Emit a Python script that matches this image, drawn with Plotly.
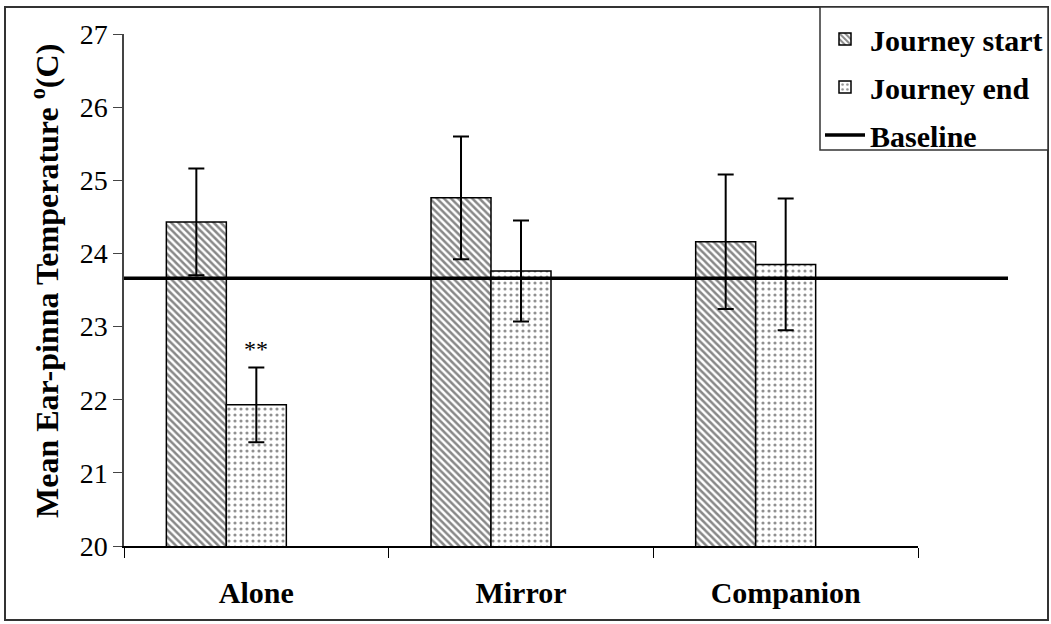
import plotly.graph_objects as go

categories = ["Alone", "Mirror", "Companion"]
journey_start = [24.43, 24.76, 24.16]
journey_start_err = [0.73, 0.84, 0.92]
journey_end = [21.93, 23.76, 23.85]
journey_end_err = [0.51, 0.69, 0.90]
baseline = 23.66
y_ticks = [20, 21, 22, 23, 24, 25, 26, 27]
significance = ["**", "", ""]

W, H = 1051, 624
ML, MR, MT, MB = 124, 133, 34, 78
PW = W - ML - MR
PH = H - MT - MB

def px_x(p):
    return (p - ML) / PW

def px_y(p):
    return (H - MB - p) / PH

xs = list(range(len(categories)))
FONT = "Liberation Serif"

fig = go.Figure()
fig.add_trace(go.Bar(
    x=xs, y=journey_start, name="<b>Journey start</b>", legendgroup="a",
    marker=dict(color="white", line=dict(color="black", width=1.5),
                pattern=dict(shape="\\", size=5, solidity=0.5, fgcolor="#111111", bgcolor="white")),
    error_y=dict(type="data", array=journey_start_err, color="black", thickness=2, width=8),
))
fig.add_trace(go.Bar(
    x=xs, y=journey_end, name="<b>Journey end</b>", legendgroup="b",
    marker=dict(color="white", line=dict(color="black", width=1.5),
                pattern=dict(shape=".", size=6, solidity=0.22, fgcolor="#222222", bgcolor="white")),
    error_y=dict(type="data", array=journey_end_err, color="black", thickness=2, width=8),
))
# empty slot kept by the original chart (baseline series)
fig.add_trace(go.Bar(
    x=xs, y=[0, 0, 0], showlegend=False, hoverinfo="skip",
    marker=dict(color="rgba(0,0,0,0)", line=dict(width=0)),
))
fig.add_trace(go.Scatter(
    x=[None], y=[None], mode="lines", name="<b>Baseline</b>", legendgroup="c",
    line=dict(color="black", width=3.5),
))

fig.add_shape(type="line", xref="paper", yref="y", x0=0, x1=px_x(1008),
              y0=baseline, y1=baseline, line=dict(color="black", width=3.5))
# outer chart border
fig.add_shape(type="rect", xref="paper", yref="paper", x0=px_x(5), x1=px_x(1048),
              y0=px_y(620), y1=px_y(7), line=dict(color="#333333", width=2), layer="below")
# legend box
fig.add_shape(type="rect", xref="paper", yref="paper", x0=px_x(820), x1=px_x(1048),
              y0=px_y(150), y1=px_y(7), line=dict(color="#333333", width=1.5),
              fillcolor="white", layer="above")

for i, s in enumerate(significance):
    if s:
        fig.add_annotation(x=xs[i], y=journey_end[i] + journey_end_err[i], text=s,
                           showarrow=False, yanchor="bottom", yshift=4,
                           font=dict(family=FONT, size=24, color="black"))

fig.add_annotation(xref="paper", yref="paper", x=px_x(45), y=px_y(281),
                   text="<b>Mean Ear-pinna Temperature <sup>o</sup>(C)</b>",
                   textangle=-90, showarrow=False, xanchor="center", yanchor="middle",
                   font=dict(family=FONT, size=32, color="black"))

fig.update_layout(
    width=W, height=H,
    margin=dict(l=ML, r=MR, t=MT, b=MB, autoexpand=False),
    paper_bgcolor="white", plot_bgcolor="white",
    barmode="group", bargap=0.32, bargroupgap=0,
    font=dict(family=FONT, size=28, color="black"),
    showlegend=True,
    legend=dict(x=px_x(820), xanchor="left", y=px_y(13), yanchor="top",
                borderwidth=0, bgcolor="rgba(0,0,0,0)",
                font=dict(family=FONT, size=30, color="black"),
                traceorder="grouped", tracegroupgap=6, itemwidth=40),
    xaxis=dict(range=[-0.5, 2.5], tickvals=xs,
               ticktext=["<b>%s</b>" % c for c in categories],
               ticks="", showline=True, linecolor="black", linewidth=1.5,
               showgrid=False, zeroline=False, ticklabelstandoff=19,
               tickfont=dict(family=FONT, size=30),
               minor=dict(tick0=-0.5, dtick=1, ticks="outside", ticklen=10,
                          tickcolor="black", tickwidth=1.2, showgrid=False)),
    yaxis=dict(range=[20, 27], tickvals=y_ticks, ticks="outside", ticklen=9,
               tickcolor="#444444", showline=True, linecolor="#444444", linewidth=1.5,
               showgrid=False, zeroline=False,
               tickfont=dict(family=FONT, size=28)),
)

fig.write_html("out.html", config={"displayModeBar": False},
               post_script="document.body.style.margin='0';")
